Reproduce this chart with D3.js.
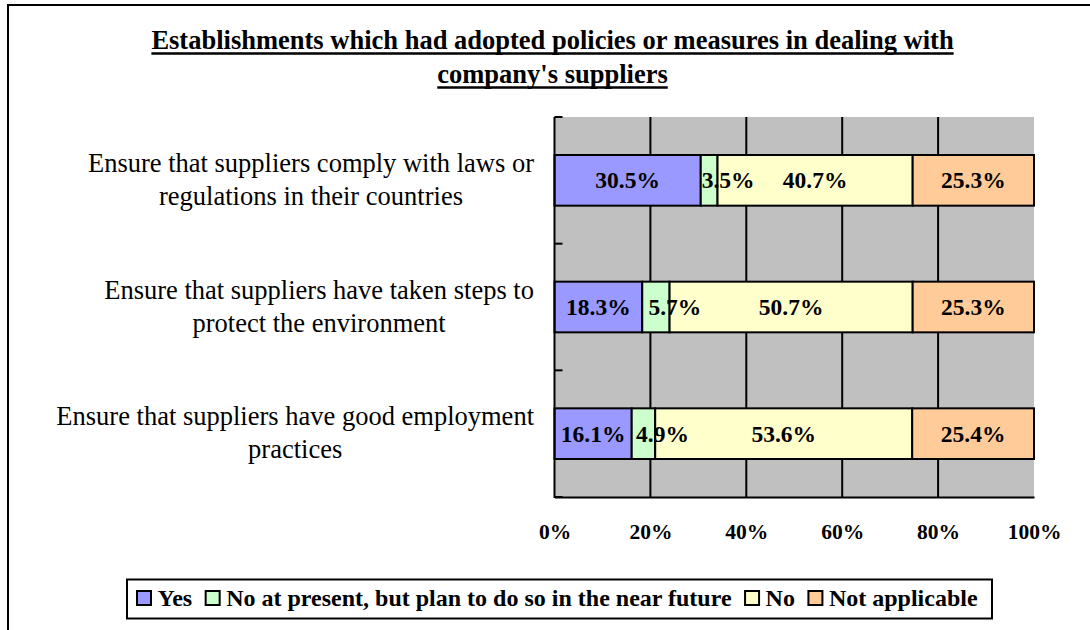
<!DOCTYPE html>
<html>
<head>
<meta charset="utf-8">
<script src="https://cdn.jsdelivr.net/npm/d3@7"></script>
<style>
  html, body { margin: 0; padding: 0; background: #fff; }
  svg { display: block; font-family: "Liberation Serif", "Times New Roman", serif; }
</style>
</head>
<body>
<svg id="chart" width="1090" height="630"></svg>
<script>
// Survey categories (line breaks mark label wrapping)
const categories = [
  "Ensure that suppliers comply with laws or\nregulations in their countries",
  "Ensure that suppliers have taken steps to\nprotect the environment",
  "Ensure that suppliers have good employment\npractices"
];
const seriesNames = [
  "Yes",
  "No at present, but plan to do so in the near future",
  "No",
  "Not applicable"
];
// Percentages per category, one array per series
const yesValues        = [30.5, 18.3, 16.1];
const planValues       = [3.5, 5.7, 4.9];
const noValues         = [40.7, 50.7, 53.6];
const notApplicValues  = [25.3, 25.3, 25.4];
const xTicks = [0, 20, 40, 60, 80, 100];
const titleLines = [
  "Establishments which had adopted policies or measures in dealing with",
  "company's suppliers"
];

const seriesValues = [yesValues, planValues, noValues, notApplicValues];
const colors = ["#9999FF", "#CCFFCC", "#FFFFCC", "#FFCC99"];

const svg = d3.select("#chart");

// Outer chart frame
svg.append("rect")
  .attr("x", 8).attr("y", 5).attr("width", 1200).attr("height", 700)
  .attr("fill", "none").attr("stroke", "#000").attr("stroke-width", 2);

// Title with underline
const title = svg.append("g");
titleLines.forEach((line, i) => {
  const base = 49 + i * 34;
  const t = title.append("text")
    .attr("x", 552.5).attr("y", base)
    .attr("text-anchor", "middle")
    .attr("font-weight", "bold")
    .attr("font-size", 26.5)
    .text(line);
  const w = t.node().getComputedTextLength();
  title.append("line")
    .attr("x1", 552.5 - w / 2).attr("x2", 552.5 + w / 2)
    .attr("y1", base + 4.5).attr("y2", base + 4.5)
    .attr("stroke", "#000").attr("stroke-width", 2.5);
});

// Scales
const x = d3.scaleLinear().domain([0, 100]).range([554.5, 1034]);
const y = d3.scaleBand().domain(categories).range([117, 497])
  .paddingInner(0.6).paddingOuter(0.3);

// Plot area background
svg.append("rect")
  .attr("x", x(0)).attr("y", 117)
  .attr("width", x(100) - x(0)).attr("height", 380)
  .attr("fill", "#C0C0C0");

// Vertical gridlines
svg.append("g").selectAll("line")
  .data(xTicks.filter(d => d > 0 && d < 100))
  .join("line")
  .attr("x1", d => x(d)).attr("x2", d => x(d))
  .attr("y1", 117).attr("y2", 497)
  .attr("stroke", "#000").attr("stroke-width", 2);

// Stacked segments
const stacked = categories.map((c, ci) => {
  let acc = 0;
  return seriesValues.map((vals, si) => {
    const v = vals[ci];
    const seg = { cat: c, series: si, x0: acc, x1: acc + v, value: v };
    acc += v;
    return seg;
  });
}).flat();

svg.append("g").selectAll("rect")
  .data(stacked)
  .join("rect")
  .attr("x", d => x(d.x0))
  .attr("y", d => y(d.cat))
  .attr("width", d => x(d.x1) - x(d.x0))
  .attr("height", y.bandwidth())
  .attr("fill", d => colors[d.series])
  .attr("stroke", "#000").attr("stroke-width", 2);

// Value labels; labels wider than their segment are nudged to the right
const labels = svg.append("g").selectAll("text")
  .data(stacked)
  .join("text")
  .attr("y", d => y(d.cat) + y.bandwidth() / 2 + 8)
  .attr("text-anchor", "middle")
  .attr("font-weight", "bold")
  .attr("font-size", 23.5)
  .text(d => d.value.toFixed(1) + "%");
labels.attr("x", function (d) {
  const cx = x((d.x0 + d.x1) / 2);
  const segW = x(d.x1) - x(d.x0);
  return this.getComputedTextLength() > segW ? cx + 19 : cx;
});

// Left axis with inward ticks at category boundaries
const leftAxis = svg.append("g");
leftAxis.append("line")
  .attr("x1", x(0)).attr("x2", x(0)).attr("y1", 117).attr("y2", 498)
  .attr("stroke", "#000").attr("stroke-width", 2);
d3.range(categories.length + 1).forEach(i => {
  const yy = 117 + i * y.step();
  leftAxis.append("line")
    .attr("x1", x(0)).attr("x2", x(0) + 8)
    .attr("y1", yy).attr("y2", yy)
    .attr("stroke", "#000").attr("stroke-width", 2);
});

// Bottom axis
const bottomAxis = svg.append("g")
  .attr("transform", "translate(0,497)")
  .call(d3.axisBottom(x).tickValues(xTicks).tickFormat(d => d + "%").tickSize(0).tickPadding(0));
bottomAxis.select(".domain").attr("stroke", "#000").attr("stroke-width", 2);
bottomAxis.selectAll("text")
  .attr("dy", null)
  .attr("y", 42)
  .attr("font-family", "Liberation Serif, Times New Roman, serif")
  .attr("font-weight", "bold")
  .attr("font-size", 21.5)
  .attr("fill", "#000");

// Category labels: block right edge at 534, lines centered within block
const catG = svg.append("g");
categories.forEach(c => {
  const lines = c.split("\n");
  const cy = y(c) + y.bandwidth() / 2;
  const texts = lines.map((ln, i) => catG.append("text")
    .attr("y", cy - 8.5 + i * 33)
    .attr("text-anchor", "middle")
    .attr("font-size", 26.5)
    .text(ln));
  const maxW = d3.max(texts, t => t.node().getComputedTextLength());
  texts.forEach(t => t.attr("x", 534 - maxW / 2));
});

// Legend
const legend = svg.append("g");
legend.append("rect")
  .attr("x", 127).attr("y", 579.5).attr("width", 865).attr("height", 39)
  .attr("fill", "#fff").attr("stroke", "#000").attr("stroke-width", 2);
let lx = 137;
seriesNames.forEach((name, i) => {
  legend.append("rect")
    .attr("x", lx).attr("y", 591).attr("width", 14).attr("height", 14)
    .attr("fill", colors[i]).attr("stroke", "#000").attr("stroke-width", 2);
  const t = legend.append("text")
    .attr("x", lx + 20.5).attr("y", 605.5)
    .attr("font-weight", "bold")
    .attr("font-size", 24)
    .text(name);
  lx += 20.5 + t.node().getComputedTextLength() + 13.5;
});
</script>
</body>
</html>
